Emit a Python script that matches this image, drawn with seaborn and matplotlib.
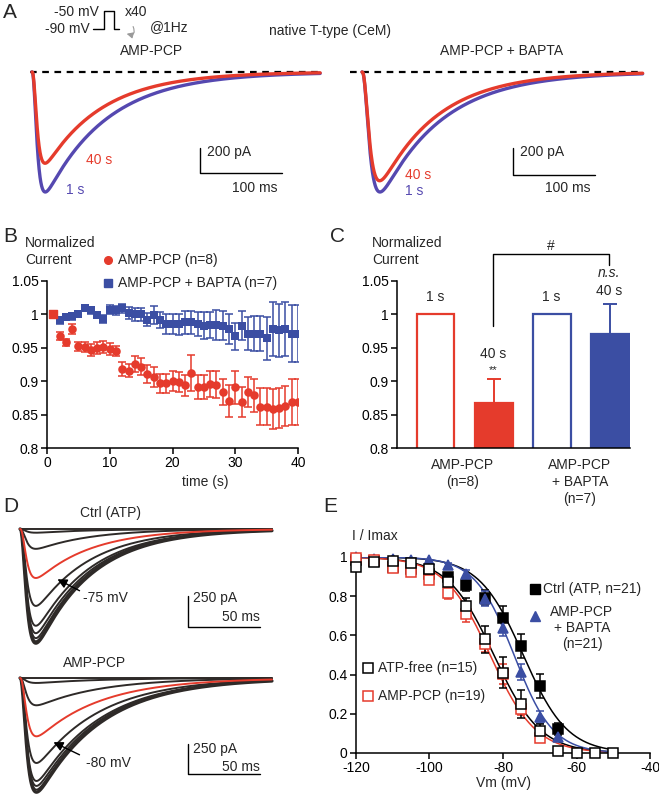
import numpy as np
import pandas as pd
import matplotlib
matplotlib.use('Agg')
import matplotlib.pyplot as plt
import seaborn as sns
from matplotlib.patches import FancyArrowPatch

sns.set_theme(style='ticks')
plt.rcParams['font.family'] = ['Liberation Sans', 'DejaVu Sans']
plt.rcParams['font.size'] = 10
plt.rcParams['axes.unicode_minus'] = False

RED = '#e53b2c'
BLUE = '#3b4ea3'
TRACE_BLUE = '#5548b0'
DARK = '#2e2a28'

# ---- data -------------------------------------------------------------
# A: example T-type currents (peak pA, activation / inactivation tau in ms)
a_labels = ['1 s', '40 s']
a_amp_pcp = [960, 730]
a_amp_bapta = [960, 870]
a_tau_h = [75, 70]

# B: normalized current over 40 sweeps
b_time = np.arange(1, 41)
b_red = [1.0, 0.968, 0.958, 0.978, 0.952, 0.951, 0.946, 0.95, 0.951, 0.948,
         0.945, 0.918, 0.916, 0.926, 0.922, 0.911, 0.906, 0.897, 0.897, 0.9,
         0.899, 0.894, 0.912, 0.891, 0.892, 0.896, 0.895, 0.884, 0.87, 0.891,
         0.869, 0.884, 0.879, 0.862, 0.862, 0.859, 0.86, 0.863, 0.869, 0.869]
b_red_err = [0, 0.006, 0.005, 0.008, 0.007, 0.008, 0.009, 0.009, 0.009, 0.009,
             0.008, 0.01, 0.01, 0.012, 0.012, 0.014, 0.015, 0.014, 0.014, 0.015,
             0.015, 0.016, 0.027, 0.018, 0.018, 0.02, 0.02, 0.02, 0.024, 0.025,
             0.022, 0.022, 0.025, 0.028, 0.028, 0.03, 0.03, 0.03, 0.034, 0.034]
b_blue = [1.0, 0.991, 0.996, 0.997, 1.001, 1.009, 1.006, 0.999, 0.993, 1.007,
          1.006, 1.009, 1.002, 1.0, 1.0, 0.992, 0.999, 0.992, 0.986, 0.986,
          0.985, 0.988, 0.988, 0.986, 0.983, 0.984, 0.984, 0.983, 0.978, 0.967,
          0.983, 0.971, 0.971, 0.971, 0.964, 0.978, 0.976, 0.978, 0.971, 0.971]
b_blue_err = [0, 0.005, 0.005, 0.005, 0.004, 0.004, 0.005, 0.005, 0.006, 0.007,
              0.007, 0.007, 0.009, 0.01, 0.01, 0.01, 0.014, 0.012, 0.015, 0.015,
              0.016, 0.017, 0.017, 0.018, 0.02, 0.02, 0.022, 0.022, 0.022, 0.02,
              0.022, 0.025, 0.026, 0.026, 0.032, 0.04, 0.04, 0.04, 0.043, 0.043]

# C: 1 s vs 40 s
c_bars = ['AMP-PCP 1 s', 'AMP-PCP 40 s', 'BAPTA 1 s', 'BAPTA 40 s']
c_values = [1.0, 0.868, 1.0, 0.971]
c_sem = [0, 0.035, 0, 0.044]

# D: current families (peak amplitude in pA for each test step)
d_ctrl_amps = [0, 30, 160, 395, 620, 780, 840, 880, 905, 920]
d_pcp_amps = [0, 40, 220, 470, 685, 830, 870, 900, 920]
d_red_index = 3

# E: steady-state inactivation
e_v = np.arange(-120, -45, 5)
e_ctrl = [0.986, 0.98, 0.949, 0.94, 0.912, 0.90, 0.856, 0.793, 0.69, 0.546, 0.342, 0.122]
e_ctrl_err = [0, 0, 0, 0, 0.01, 0.015, 0.03, 0.04, 0.06, 0.06, 0.06, 0.03]
e_free = [0.949, 0.975, 0.98, 0.97, 0.937, 0.873, 0.749, 0.58, 0.41, 0.249, 0.11, 0.012, 0.0, 0.0, 0.0]
e_free_err = [0, 0, 0, 0, 0.01, 0.02, 0.04, 0.07, 0.08, 0.07, 0.04, 0.01, 0, 0, 0]
e_pcp = [0.997, 0.983, 0.944, 0.924, 0.885, 0.814, 0.708, 0.556, 0.403, 0.224, 0.076]
e_pcp_err = [0, 0, 0, 0, 0.015, 0.03, 0.04, 0.04, 0.05, 0.03, 0.02]
e_bapta = [1.0, 0.99, 0.99, 0.985, 0.983, 0.958, 0.912, 0.788, 0.636, 0.412, 0.183, 0.08]
e_bapta_err = [0, 0, 0, 0, 0, 0.01, 0.02, 0.04, 0.04, 0.04, 0.03, 0.02]
e_fit_vhalf = [-74.5, -82.5, -83.5, -77.0]
e_fit_k = [6.0, 6.3, 6.2, 5.3]

W, H = 659, 795
fig = plt.figure(figsize=(W / 100, H / 100), dpi=100)


def px_axes(x0, y0, x1, y1):
    return fig.add_axes([x0 / W, 1 - y1 / H, (x1 - x0) / W, (y1 - y0) / H])


def trace(t, amp, tau_m, tau_h):
    w = (1 - np.exp(-t / tau_m)) ** 3 * np.exp(-t / tau_h)
    return -amp * w / w.max()


def style_axes(ax):
    sns.despine(ax=ax)
    for s in ['left', 'bottom']:
        ax.spines[s].set_linewidth(1.1)
        ax.spines[s].set_color('black')
    ax.tick_params(direction='out', length=4, width=1.1, labelsize=10, colors='black', pad=2)


# ---- A ----------------------------------------------------------------
def panel_a(ax, amps, tmax, tau_m, t_left, t_right):
    t = np.linspace(0, tmax, 1500)
    ax.plot([t_left, t_right], [0, 0], ls=(0, (3, 2.5)), color='black', lw=1.6)
    for amp, th, col in zip(amps, a_tau_h, [TRACE_BLUE, RED]):
        sns.lineplot(x=t, y=trace(t, amp, tau_m, th), ax=ax, color=col, lw=2.4)
    ax.axis('off')


axA1 = px_axes(20, 60, 330, 205)
panel_a(axA1, a_amp_pcp, 351, 4.0, -2.4, 351)
axA1.set_xlim(-14.6, 363)
axA1.set_ylim(-1064, 96)
axA1.plot([205, 205, 305], [-608, -808, -808], color='black', lw=1)

axA2 = px_axes(340, 60, 650, 205)
panel_a(axA2, a_amp_bapta, 342, 6.0, -14.6, 342.7)
axA2.set_xlim(-26.8, 351)
axA2.set_ylim(-1064, 96)
axA2.plot([184, 184, 284], [-608, -824, -824], color='black', lw=1)

# ---- B ----------------------------------------------------------------
axB = px_axes(47, 281, 298, 448)
axB.errorbar(b_time[1:], b_red[1:], yerr=b_red_err[1:], fmt='none', ecolor=RED,
             elinewidth=1.1, capsize=3, capthick=1.1)
axB.errorbar(b_time[1:], b_blue[1:], yerr=b_blue_err[1:], fmt='none', ecolor=BLUE,
             elinewidth=1.1, capsize=3, capthick=1.1)
sns.scatterplot(x=b_time[1:], y=b_red[1:], ax=axB, color=RED, marker='o', s=38,
                edgecolor=RED, linewidth=0, zorder=3)
sns.scatterplot(x=b_time[1:], y=b_blue[1:], ax=axB, color=BLUE, marker='s', s=34,
                edgecolor=BLUE, linewidth=0, zorder=3)
axB.scatter([b_time[0]], [b_red[0]], color=RED, marker='s', s=30, zorder=4)
axB.set_xlim(0, 40)
axB.set_ylim(0.8, 1.05)
axB.set_xticks([0, 10, 20, 30, 40])
axB.set_yticks([0.8, 0.85, 0.9, 0.95, 1.0, 1.05])
axB.set_yticklabels(['0.8', '0.85', '0.9', '0.95', '1', '1.05'])
style_axes(axB)

# ---- C ----------------------------------------------------------------
axC = px_axes(397, 281, 630, 448)
cdf = pd.DataFrame({'bar': c_bars, 'value': c_values})
sns.barplot(data=cdf, x='bar', y='value', ax=axC, width=0.65, color='white')
faces = ['white', RED, 'white', BLUE]
edges = [RED, RED, BLUE, BLUE]
for patch, fc, ec in zip(axC.patches, faces, edges):
    patch.set_facecolor(fc)
    patch.set_edgecolor(ec)
    patch.set_linewidth(1.6)
for i, (v, e, ec) in enumerate(zip(c_values, c_sem, edges)):
    if e > 0:
        axC.errorbar([i], [v], yerr=[[0], [e]], fmt='none', ecolor=ec,
                     elinewidth=1.4, capsize=5, capthick=1.4)
axC.set_xlim(-0.664, 3.345)
axC.set_ylim(0.8, 1.05)
axC.set_yticks([0.8, 0.85, 0.9, 0.95, 1.0, 1.05])
axC.set_yticklabels(['0.8', '0.85', '0.9', '0.95', '1', '1.05'])
axC.set_xticks([])
axC.set_xlabel('')
axC.set_ylabel('')
style_axes(axC)

# ---- D ----------------------------------------------------------------
def panel_d(ax, amps, tau_h):
    t = np.linspace(0, 175, 1200)
    for i, amp in enumerate(amps):
        if i == d_red_index:
            continue
        lw = 2.4 if i == len(amps) - 1 else 1.4
        sns.lineplot(x=t, y=trace(t, amp, 3.0, tau_h), ax=ax, color=DARK, lw=lw)
    sns.lineplot(x=t, y=trace(t, amps[d_red_index], 3.0, tau_h), ax=ax, color=RED, lw=1.4)
    ax.set_xlim(-3.5, 180.6)
    ax.axis('off')


axD1 = px_axes(15, 520, 280, 660)
panel_d(axD1, d_ctrl_amps, 38)
axD1.set_ylim(-1056, 72.5)
axD1.plot([116.7, 116.7, 166.7], [-540, -790, -790], color='black', lw=1)

axD2 = px_axes(15, 670, 280, 795)
panel_d(axD2, d_pcp_amps, 44)
axD2.set_ylim(-943, 64.5)
axD2.plot([116.7, 116.7, 166.7], [-532, -774, -774], color='black', lw=1)

# ---- E ----------------------------------------------------------------
axE = px_axes(356, 557, 650, 753)
vfit = np.linspace(-120, -50, 300)
for vh, k, col in zip(e_fit_vhalf, e_fit_k, ['black', 'black', RED, BLUE]):
    sns.lineplot(x=vfit, y=1 / (1 + np.exp((vfit - vh) / k)), ax=axE, color=col, lw=1.1)

series = [
    (e_ctrl, e_ctrl_err, 's', 'black', 'black'),
    (e_bapta, e_bapta_err, '^', BLUE, BLUE),
    (e_pcp, e_pcp_err, 's', RED, 'white'),
    (e_free, e_free_err, 's', 'black', 'white'),
]
for vals, errs, mk, col, face in series:
    v = e_v[:len(vals)]
    axE.errorbar(v, vals, yerr=errs, fmt='none', ecolor=col, elinewidth=1.1,
                 capsize=3, capthick=1.1, clip_on=False)
    axE.plot(v, vals, ls='none', marker=mk, ms=6.5, mfc=face, mec=col, mew=1.1,
             clip_on=False, zorder=4)
axE.set_xlim(-120, -40)
axE.set_ylim(0, 1)
axE.set_xticks([-120, -100, -80, -60, -40])
axE.set_yticks([0, 0.2, 0.4, 0.6, 0.8, 1.0])
axE.set_yticklabels(['0', '0.2', '0.4', '0.6', '0.8', '1'])
style_axes(axE)

# ---- annotations (pixel overlay) ----------------------------------------
ov = fig.add_axes([0, 0, 1, 1], zorder=10)
ov.set_xlim(0, W)
ov.set_ylim(H, 0)
ov.axis('off')
ov.patch.set_visible(False)


def txt(x, y, s, ha='left', **kw):
    kw.setdefault('fontsize', 10)
    ov.text(x, y, s, ha=ha, va='center', **kw)


for x, y, s in [(3, 12, 'A'), (3, 236, 'B'), (330, 236, 'C'), (3, 507, 'D'), (323, 506, 'E')]:
    txt(x, y, s, fontsize=15)

# A
txt(99, 12, '-50 mV', ha='right')
txt(90, 29, '-90 mV', ha='right')
ov.plot([93, 104, 104, 114, 114, 119], [29, 29, 11, 11, 29, 29], color='black', lw=1)
txt(125, 12, 'x40')
txt(150, 27, '@1Hz')
ov.add_patch(FancyArrowPatch((132, 24), (124, 33), connectionstyle='arc3,rad=-1.2',
                             arrowstyle='-|>', mutation_scale=9, color='#999999', lw=0.8))
txt(152, 51, 'AMP-PCP', ha='center')
txt(330, 31, 'native T-type (CeM)', ha='center')
txt(502, 51, 'AMP-PCP + BAPTA', ha='center')
txt(86, 160, '40 s', color=RED)
txt(66, 190, '1 s', color=TRACE_BLUE)
txt(405, 175, '40 s', color=RED)
txt(405, 191, '1 s', color=TRACE_BLUE)
txt(207, 152, '200 pA')
txt(232, 188, '100 ms')
txt(520, 152, '200 pA')
txt(545, 188, '100 ms')

# B
txt(25, 243, 'Normalized')
txt(25, 260, 'Current')
ov.plot(108, 260, 'o', color=RED, ms=5.5)
txt(118, 260, 'AMP-PCP (n=8)')
ov.plot(108, 283, 's', color=BLUE, ms=5.5)
txt(118, 283, 'AMP-PCP + BAPTA (n=7)')
txt(205, 482, 'time (s)', ha='center')

# C
txt(372, 243, 'Normalized')
txt(372, 260, 'Current')
ov.plot([493, 493, 609, 609], [326, 254, 254, 265], color='black', lw=1)
txt(551, 246, '#', ha='center')
txt(609, 273, 'n.s.', ha='center', style='italic')
txt(609, 291, '40 s', ha='center')
txt(435, 297, '1 s', ha='center')
txt(551, 297, '1 s', ha='center')
txt(493, 354, '40 s', ha='center')
txt(493, 370, '**', ha='center', fontsize=8)
txt(463, 465, 'AMP-PCP', ha='center')
txt(463, 482, '(n=8)', ha='center')
txt(580, 465, 'AMP-PCP', ha='center')
txt(580, 482, '+ BAPTA', ha='center')
txt(580, 499, '(n=7)', ha='center')

# D
txt(110, 513, 'Ctrl (ATP)', ha='center')
txt(95, 663, 'AMP-PCP', ha='center')
txt(83, 598, '-75 mV')
txt(86, 763, '-80 mV')
ov.annotate('', xy=(55, 578), xytext=(82, 592),
            arrowprops=dict(arrowstyle='-|>', color='black', lw=1, mutation_scale=14))
ov.annotate('', xy=(51, 741), xytext=(82, 756),
            arrowprops=dict(arrowstyle='-|>', color='black', lw=1, mutation_scale=14))
txt(193, 598, '250 pA')
txt(222, 617, '50 ms')
txt(193, 749, '250 pA')
txt(222, 767, '50 ms')

# E
txt(352, 536, 'I / Imax')
ov.plot(535, 589, 's', color='black', ms=6.5)
txt(543, 589, 'Ctrl (ATP, n=21)')
ov.plot(535, 616, '^', color=BLUE, ms=6.5)
txt(582, 612, 'AMP-PCP', ha='center')
txt(582, 628, '+ BAPTA', ha='center')
txt(582, 644, '(n=21)', ha='center')
ov.plot(368, 668, 's', mfc='white', mec='black', mew=1.1, ms=6.5)
txt(378, 668, 'ATP-free (n=15)')
ov.plot(368, 696, 's', mfc='white', mec=RED, mew=1.1, ms=6.5)
txt(378, 696, 'AMP-PCP (n=19)')
txt(503, 783, 'Vm (mV)', ha='center')

fig.savefig('out.png', dpi=100, facecolor='white')
